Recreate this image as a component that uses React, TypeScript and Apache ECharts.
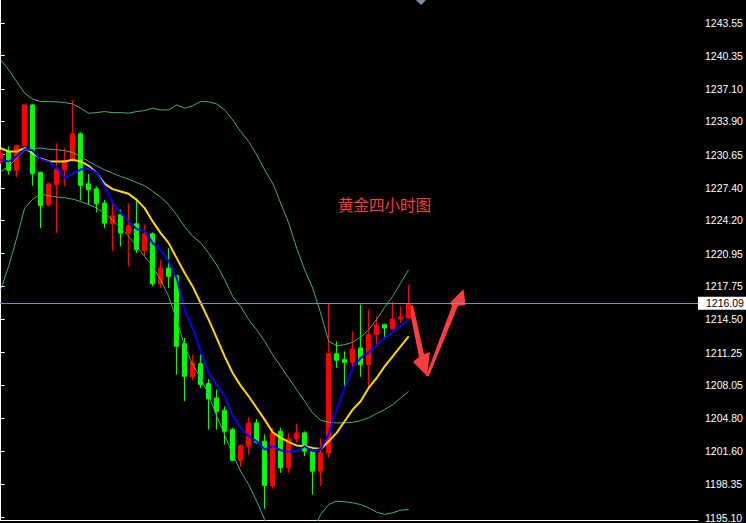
import React, { useEffect, useRef } from "react";
import * as echarts from "echarts";

// Candles (red = up, green = down)
const opens = [1229.95, 1230.96, 1229.10, 1231.51, 1235.52, 1228.90, 1225.74, 1227.69, 1229.16, 1230.08, 1232.69, 1227.79, 1227.30, 1225.90, 1223.88, 1224.76, 1222.96, 1223.88, 1221.27, 1222.90, 1218.00, 1219.54, 1218.79, 1212.13, 1208.87, 1210.17, 1208.22, 1206.81, 1205.60, 1203.71, 1200.71, 1202.08, 1204.37, 1202.57, 1198.23, 1203.55, 1199.96, 1202.80, 1203.39, 1201.59, 1199.64, 1201.43, 1211.15, 1210.57, 1210.30, 1211.71, 1210.07, 1213.01, 1213.99, 1213.57, 1214.55, 1214.64];
const closes = [1230.79, 1229.10, 1231.51, 1235.52, 1228.77, 1225.67, 1227.79, 1229.23, 1230.08, 1232.69, 1227.63, 1227.20, 1225.83, 1223.94, 1224.66, 1222.96, 1223.68, 1221.33, 1222.90, 1218.00, 1219.54, 1218.72, 1211.87, 1208.93, 1210.30, 1208.12, 1206.72, 1205.50, 1203.55, 1200.71, 1202.15, 1204.37, 1202.47, 1198.23, 1203.39, 1199.96, 1202.80, 1203.39, 1201.59, 1199.64, 1201.43, 1211.15, 1210.50, 1210.30, 1211.61, 1210.07, 1213.01, 1213.99, 1213.66, 1214.55, 1214.74, 1216.09];
const highs = [1231.12, 1231.45, 1231.61, 1235.59, 1235.59, 1229.00, 1227.86, 1231.77, 1231.28, 1236.01, 1232.85, 1228.74, 1227.53, 1226.22, 1225.90, 1225.25, 1225.83, 1226.39, 1223.78, 1223.03, 1220.35, 1221.49, 1218.89, 1212.69, 1211.05, 1211.05, 1208.67, 1207.63, 1205.99, 1203.88, 1202.24, 1204.95, 1204.76, 1203.22, 1203.88, 1203.88, 1203.39, 1204.30, 1203.55, 1201.76, 1202.90, 1216.11, 1212.36, 1211.38, 1213.34, 1215.95, 1215.46, 1214.81, 1214.09, 1216.27, 1215.79, 1217.91];
const lows = [1229.75, 1228.67, 1228.44, 1231.45, 1227.60, 1223.45, 1225.57, 1222.96, 1227.53, 1229.98, 1226.16, 1225.74, 1224.99, 1223.45, 1221.17, 1221.66, 1219.70, 1221.01, 1220.68, 1217.74, 1217.58, 1217.58, 1209.10, 1206.49, 1208.54, 1207.79, 1203.71, 1203.71, 1202.24, 1200.61, 1200.06, 1201.27, 1202.34, 1195.95, 1197.91, 1199.47, 1199.47, 1202.41, 1201.10, 1197.35, 1198.17, 1200.94, 1209.75, 1207.79, 1209.75, 1208.87, 1207.79, 1212.03, 1212.69, 1213.50, 1214.15, 1214.64];

// Moving averages
const maFast = [1230.14, 1229.98, 1230.47, 1231.19, 1231.05, 1230.21, 1229.94, 1229.42, 1228.35, 1228.77, 1229.19, 1229.32, 1228.84, 1227.50, 1225.93, 1224.92, 1224.11, 1223.35, 1223.19, 1221.98, 1221.33, 1220.19, 1218.56, 1215.46, 1213.66, 1211.38, 1209.26, 1208.12, 1206.98, 1205.08, 1203.88, 1203.06, 1202.57, 1201.76, 1202.08, 1201.69, 1201.53, 1201.59, 1202.08, 1201.59, 1201.82, 1203.22, 1205.67, 1207.79, 1209.75, 1210.73, 1211.28, 1211.94, 1212.69, 1213.24, 1213.83, 1214.48];
const maSlow = [1231.28, 1230.96, 1230.96, 1231.28, 1230.79, 1230.27, 1230.01, 1229.98, 1229.98, 1230.14, 1229.98, 1229.55, 1228.84, 1227.79, 1227.27, 1227.04, 1226.81, 1226.22, 1225.41, 1224.11, 1222.96, 1221.98, 1220.51, 1219.05, 1217.74, 1216.11, 1214.48, 1212.69, 1210.89, 1209.26, 1208.02, 1206.98, 1205.83, 1204.69, 1203.45, 1202.90, 1202.51, 1202.15, 1202.08, 1201.92, 1201.82, 1202.57, 1203.39, 1204.53, 1205.67, 1206.49, 1207.79, 1208.77, 1209.91, 1210.89, 1211.87, 1212.85];

// Bollinger bands
const bbUpper = [1239.93, 1238.95, 1237.81, 1236.67, 1236.08, 1235.85, 1235.85, 1235.82, 1235.75, 1235.62, 1235.20, 1234.71, 1234.77, 1234.87, 1234.77, 1234.77, 1234.71, 1234.87, 1234.97, 1235.20, 1235.03, 1235.03, 1235.52, 1235.20, 1235.43, 1235.85, 1235.82, 1235.62, 1235.03, 1234.06, 1232.91, 1231.94, 1230.63, 1229.16, 1227.86, 1225.90, 1223.94, 1221.49, 1219.37, 1217.58, 1215.13, 1212.36, 1211.93, 1212.03, 1212.26, 1212.75, 1213.50, 1214.48, 1215.69, 1216.76, 1218.07, 1219.37];
const bbMiddle = [1228.99, 1229.48, 1230.30, 1231.05, 1231.28, 1231.28, 1231.19, 1231.12, 1231.05, 1230.86, 1230.47, 1229.98, 1229.55, 1229.16, 1228.84, 1228.51, 1228.25, 1227.92, 1227.60, 1227.04, 1226.49, 1225.74, 1224.76, 1223.58, 1222.64, 1222.02, 1221.00, 1219.86, 1218.40, 1216.76, 1215.79, 1214.48, 1213.50, 1212.36, 1211.05, 1209.91, 1208.77, 1207.63, 1206.49, 1205.34, 1204.63, 1204.43, 1204.37, 1204.37, 1204.43, 1204.59, 1204.86, 1205.28, 1205.67, 1206.16, 1206.81, 1207.47];
const bbLower = [1217.42, 1219.70, 1222.47, 1225.41, 1226.29, 1226.78, 1226.62, 1226.49, 1226.42, 1226.29, 1226.06, 1225.77, 1225.41, 1224.92, 1224.20, 1223.45, 1222.64, 1221.66, 1220.68, 1219.70, 1218.40, 1216.76, 1214.48, 1211.87, 1210.07, 1208.77, 1207.14, 1205.02, 1203.22, 1201.27, 1199.64, 1198.33, 1196.70, 1194.90, 1193.60, 1192.62, 1191.97, 1191.80, 1192.29, 1193.76, 1195.40, 1196.37, 1196.70, 1196.64, 1196.54, 1196.37, 1196.05, 1195.62, 1195.40, 1195.56, 1195.82, 1195.89];

const priceTicks = [1195.10, 1198.35, 1201.60, 1204.80, 1208.05, 1211.25, 1214.50, 1217.75, 1220.95, 1224.20, 1227.40, 1230.65, 1233.90, 1237.10, 1240.35, 1243.55];
const currentPrice = 1216.09;
const title = "黄金四小时图";

const AXIS_FONT = "Liberation Sans, Arial, sans-serif";

export default function App() {
  const ref = useRef<HTMLDivElement>(null);

  useEffect(() => {
    if (!ref.current) return;
    const chart = echarts.init(ref.current, null, { renderer: "svg" });

    const candleData = opens.map((o, i) => [i, o, closes[i], lows[i], highs[i]]);
    const toLine = (arr: number[]) => arr.map((v, i) => [i, v]);

    const bbStyle = { color: "#3cb371", width: 1 };

    chart.setOption({
      animation: false,
      backgroundColor: "#000000",
      grid: { left: 0, right: 48, top: 0, bottom: 2, containLabel: false },
      xAxis: {
        type: "value",
        min: -0.084,
        max: 87.17,
        axisLine: { show: true, onZero: false, lineStyle: { color: "#ffffff", width: 1 } },
        axisTick: { show: false },
        axisLabel: { show: false },
        splitLine: { show: false },
      },
      yAxis: {
        type: "value",
        position: "right",
        min: 1194.81,
        max: 1245.8,
        axisLine: { show: true, lineStyle: { color: "#ffffff", width: 1 } },
        axisTick: {
          show: true,
          inside: false,
          length: 4,
          lineStyle: { color: "#ffffff" },
          customValues: priceTicks,
        },
        axisLabel: {
          color: "#ffffff",
          fontSize: 10.5,
          fontFamily: AXIS_FONT,
          margin: 7,
          customValues: priceTicks,
          formatter: (v: number) => v.toFixed(2),
        },
        splitLine: { show: false },
      },
      series: [
        { type: "line", data: toLine(bbUpper), symbol: "none", lineStyle: bbStyle, silent: true },
        { type: "line", data: toLine(bbMiddle), symbol: "none", lineStyle: bbStyle, silent: true },
        { type: "line", data: toLine(bbLower), symbol: "none", lineStyle: bbStyle, silent: true },
        {
          type: "candlestick",
          data: candleData,
          barWidth: 4,
          itemStyle: {
            color: "#ff0000",
            color0: "#00ff00",
            borderColor: "#ff0000",
            borderColor0: "#00ff00",
            borderWidth: 1,
          },
          markLine: {
            silent: true,
            symbol: ["none", "none"],
            animation: false,
            lineStyle: { color: "#7f8fa0", width: 1, type: "solid" },
            label: {
              show: true,
              position: "end",
              distance: 0,
              formatter: currentPrice.toFixed(2),
              color: "#000000",
              backgroundColor: "#ffffff",
              fontSize: 10.5,
              fontFamily: AXIS_FONT,
              padding: [1, 3, 1, 8],
            },
            data: [{ yAxis: currentPrice }],
          },
        },
        { type: "line", data: toLine(maSlow), symbol: "none", lineStyle: { color: "#ffd700", width: 2 }, silent: true },
        { type: "line", data: toLine(maFast), symbol: "none", lineStyle: { color: "#0000ff", width: 2 }, silent: true },
      ],
      graphic: [
        {
          type: "polygon",
          shape: { points: [[416, 0], [426, 0], [421, 5]] },
          style: { fill: "#7f8fa0" },
          silent: true,
        },
        {
          type: "text",
          x: 338,
          y: 204,
          style: {
            text: title,
            fill: "#ff3c3c",
            fontSize: 15.5,
            fontFamily: "Noto Sans CJK SC",
            verticalAlign: "middle",
          },
          silent: true,
        },
        {
          type: "polygon",
          shape: {
            points: [[409, 307], [413, 305], [424, 354], [430, 352], [427, 376], [413, 362], [419, 357]],
          },
          style: { fill: "#ff3c3c" },
          silent: true,
        },
        {
          type: "polygon",
          shape: {
            points: [[426, 376], [452, 306], [450, 303], [463.5, 289], [465.5, 305], [458, 306], [429, 376]],
          },
          style: { fill: "#ff3c3c" },
          silent: true,
        },
      ],
    });

    return () => chart.dispose();
  }, []);

  return (
    <div
      ref={ref}
      style={{ position: "absolute", left: 0, top: 0, width: 746, height: 523, background: "#000" }}
    />
  );
}
